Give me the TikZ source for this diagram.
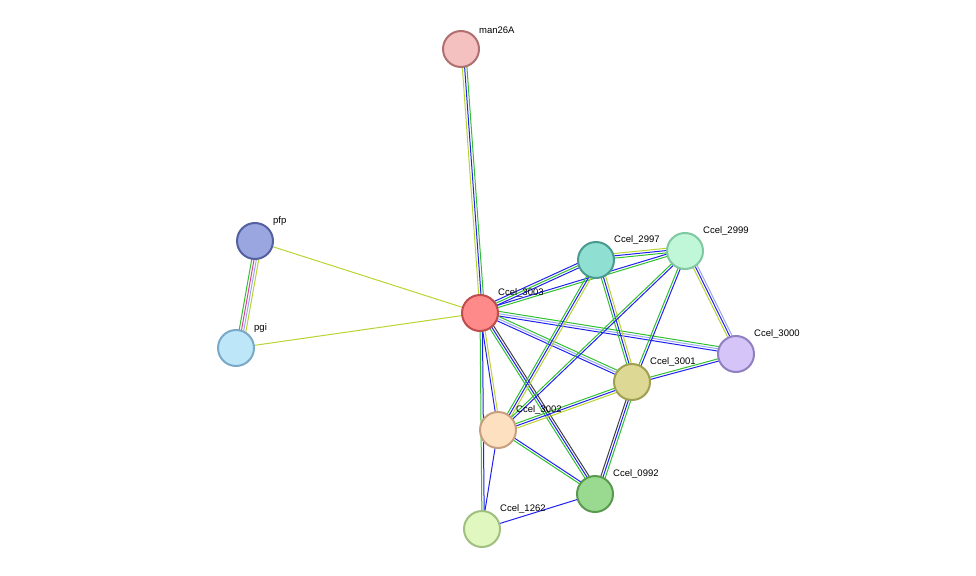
\documentclass[tikz,border=0pt]{standalone}
\usepackage{fontspec}
\setmainfont{Liberation Sans}
\usetikzlibrary{calc}
\definecolor{tmine}{HTML}{B8D430}
\definecolor{coocc}{HTML}{2020F0}
\definecolor{nbhd}{HTML}{30C030}
\definecolor{coexp}{HTML}{404040}
\definecolor{dbase}{HTML}{9AA8F0}
\definecolor{exper}{HTML}{E040A0}
\tikzset{
    x=1pt, y=-1pt,
    prot/.style = {
        draw,
        shape=circle,
        minimum size=36pt,
        line width=2pt
    },
    lbl/.style = {
        font=\fontsize{9.5}{11}\selectfont,
        anchor=south west,
        inner sep=1pt
    },
}
% one coloured strand per evidence, side by side
\newcommand{\strands}[3]{%
    \foreach \col [count=\k] in {#3} {
        \pgfmathsetmacro{\off}{(\k-1)*2.3}
        \draw[\col, line width=1pt] ($(#1)!\off pt!90:(#2)$) -- ($(#2)!\off pt!-90:(#1)$);
    }
}
\begin{document}
\begin{tikzpicture}
    \useasboundingbox (0,0) rectangle (976,575);
    \coordinate (man) at (461,49);
    \coordinate (pfp) at (255,241);
    \coordinate (pgi) at (236,348);
    \coordinate (c3003) at (480,313);
    \coordinate (c2997) at (596,260);
    \coordinate (c2999) at (685,251);
    \coordinate (c3000) at (736,354);
    \coordinate (c3001) at (632,382);
    \coordinate (c3002) at (498,430);
    \coordinate (c0992) at (595,494);
    \coordinate (c1262) at (482,529);

    \strands{man}{c3003}{tmine,coocc,nbhd}
    \strands{pfp}{c3003}{tmine}
    \strands{pgi}{c3003}{tmine}
    \strands{pfp}{pgi}{nbhd,exper,dbase,tmine}
    \strands{c3003}{c2997}{coocc,nbhd,coocc}
    \strands{c3003}{c2999}{nbhd,coocc}
    \strands{c3003}{c3000}{coocc,dbase,nbhd}
    \strands{c3003}{c3001}{coocc,dbase,nbhd}
    \strands{c3003}{c3002}{coocc,tmine}
    \strands{c3003}{c0992}{nbhd,coocc,coexp}
    \strands{c3003}{c1262}{nbhd,coocc}
    \strands{c2997}{c2999}{nbhd,coocc,tmine}
    \strands{c2997}{c3001}{nbhd,coocc,tmine}
    \strands{c2997}{c3002}{nbhd,coocc,tmine}
    \strands{c2999}{c3000}{tmine,coocc,dbase}
    \strands{c2999}{c3001}{nbhd,coocc}
    \strands{c2999}{c3002}{nbhd,coocc}
    \strands{c3000}{c3001}{nbhd,coocc}
    \strands{c3001}{c3002}{nbhd,coocc,tmine}
    \strands{c3001}{c0992}{coexp,coocc,nbhd}
    \strands{c3002}{c0992}{nbhd,coocc}
    \strands{c3002}{c1262}{coocc}
    \strands{c0992}{c1262}{coocc}

    \node[prot, fill={rgb,255:red,245;green,192;blue,192}, draw={rgb,255:red,176;green,112;blue,112}] (nman) at (man) {};
    \node[prot, fill={rgb,255:red,154;green,166;blue,224}, draw={rgb,255:red,85;green,96;blue,160}] (npfp) at (pfp) {};
    \node[prot, fill={rgb,255:red,189;green,230;blue,248}, draw={rgb,255:red,122;green,170;blue,200}] (npgi) at (pgi) {};
    \node[prot, fill={rgb,255:red,255;green,138;blue,138}, draw={rgb,255:red,192;green,76;blue,76}] (n3003) at (c3003) {};
    \node[prot, fill={rgb,255:red,143;green,223;blue,211}, draw={rgb,255:red,74;green,154;blue,144}] (n2997) at (c2997) {};
    \node[prot, fill={rgb,255:red,191;green,247;blue,216}, draw={rgb,255:red,128;green,200;blue,160}] (n2999) at (c2999) {};
    \node[prot, fill={rgb,255:red,212;green,196;blue,248}, draw={rgb,255:red,144;green,128;blue,192}] (n3000) at (c3000) {};
    \node[prot, fill={rgb,255:red,221;green,217;blue,149}, draw={rgb,255:red,160;green,160;blue,80}] (n3001) at (c3001) {};
    \node[prot, fill={rgb,255:red,253;green,224;blue,192}, draw={rgb,255:red,200;green,160;blue,128}] (n3002) at (c3002) {};
    \node[prot, fill={rgb,255:red,154;green,218;blue,144}, draw={rgb,255:red,90;green,154;blue,80}] (n0992) at (c0992) {};
    \node[prot, fill={rgb,255:red,224;green,248;blue,192}, draw={rgb,255:red,160;green,192;blue,128}] (n1262) at (c1262) {};

    \node[lbl] at ($(man)+(17,-14)$) {man26A};
    \node[lbl] at ($(pfp)+(17,-14)$) {pfp};
    \node[lbl] at ($(pgi)+(17,-14)$) {pgi};
    \node[lbl] at ($(c3003)+(17,-14)$) {Ccel\_3003};
    \node[lbl] at ($(c2997)+(17,-14)$) {Ccel\_2997};
    \node[lbl] at ($(c2999)+(17,-14)$) {Ccel\_2999};
    \node[lbl] at ($(c3000)+(17,-14)$) {Ccel\_3000};
    \node[lbl] at ($(c3001)+(17,-14)$) {Ccel\_3001};
    \node[lbl] at ($(c3002)+(17,-14)$) {Ccel\_3002};
    \node[lbl] at ($(c0992)+(17,-14)$) {Ccel\_0992};
    \node[lbl] at ($(c1262)+(17,-14)$) {Ccel\_1262};
\end{tikzpicture}
\end{document}
